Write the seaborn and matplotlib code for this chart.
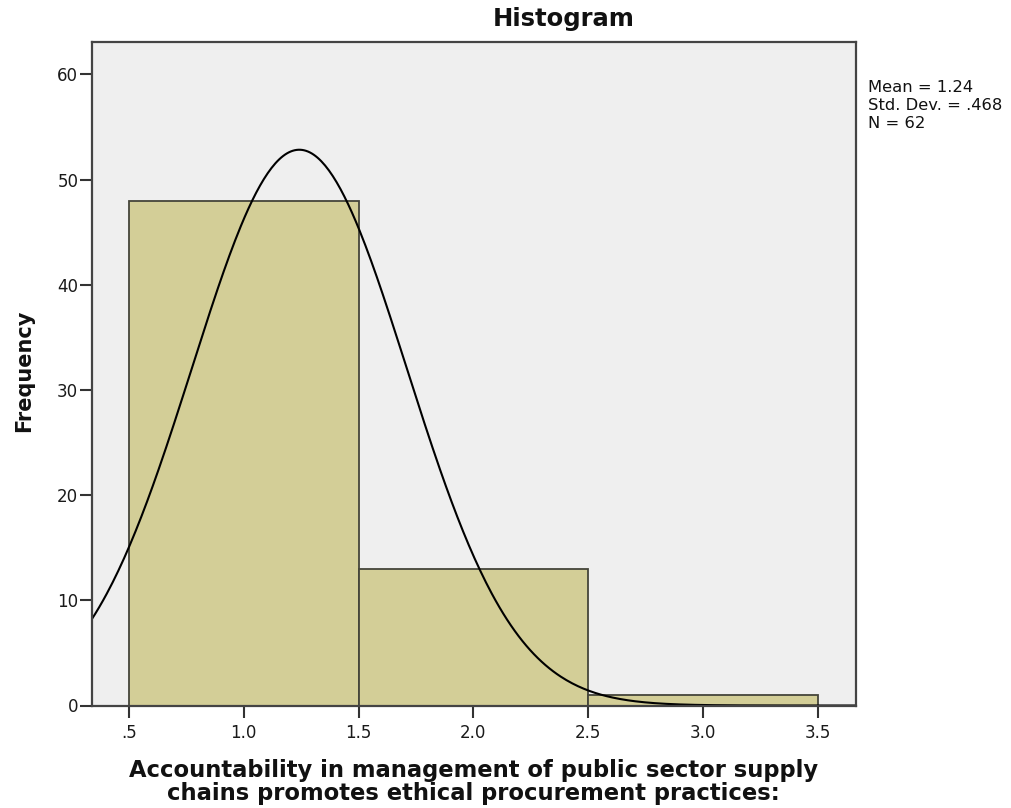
import numpy as np
import pandas as pd
import seaborn as sns
import matplotlib
matplotlib.use("Agg")
import matplotlib.pyplot as plt

# Response codes and how many respondents chose each
values = [1, 2, 3]
counts = [48, 13, 1]
bin_edges = [0.5, 1.5, 2.5, 3.5]
x_ticks = [0.5, 1.0, 1.5, 2.0, 2.5, 3.0, 3.5]
x_tick_labels = [".5", "1.0", "1.5", "2.0", "2.5", "3.0", "3.5"]
y_ticks = [0, 10, 20, 30, 40, 50, 60]

sns.set_theme(style="white")
plt.rcParams["font.family"] = ["DejaVu Sans"]

df = pd.DataFrame({"value": values, "count": counts})

W, H = 1012, 808
fig = plt.figure(figsize=(W / 100, H / 100), dpi=100)
ax_l, ax_r, ax_t, ax_b = 91.5, 855.7, 41.7, 705.5
ax = fig.add_axes([ax_l / W, 1 - ax_b / H, (ax_r - ax_l) / W, (ax_b - ax_t) / H])
ax.set_facecolor("#efefef")

sns.histplot(data=df, x="value", weights="count", bins=bin_edges, ax=ax,
             color="#d3ce97", edgecolor="#45453a", linewidth=1.3, alpha=1)

# Normal curve fitted to the sample, scaled to counts per unit-width bin
data = np.repeat(values, counts)
mean = data.mean()
sd = data.std(ddof=1)
n = data.size
xmin, xmax = 0.337, 3.665
xs = np.linspace(xmin, xmax, 400)
ys = n * 1.0 / (sd * np.sqrt(2 * np.pi)) * np.exp(-0.5 * ((xs - mean) / sd) ** 2)
sns.lineplot(x=xs, y=ys, ax=ax, color="black", linewidth=1.5)

ax.set_xlim(xmin, xmax)
ax.set_ylim(0, 63.1)
ax.set_xticks(x_ticks)
ax.set_xticklabels(x_tick_labels)
ax.set_yticks(y_ticks)
ax.tick_params(axis="both", direction="out", length=8.5, width=1.5, color="#333333",
               labelsize=12, labelcolor="#1a1a1a", bottom=True, left=True)
ax.tick_params(axis="x", pad=5)
ax.tick_params(axis="y", pad=1)

for s in ax.spines.values():
    s.set_color("#444444")
    s.set_linewidth(1.6)

ax.set_xlabel("Accountability in management of public sector supply\nchains promotes ethical procurement practices:",
              fontsize=16.3, fontweight="bold", linespacing=1.0, color="#111111")
ax.xaxis.set_label_coords(((ax_l + ax_r) / 2 - ax_l) / (ax_r - ax_l),
                          (ax_b - 759) / (ax_b - ax_t))

ax.set_ylabel("Frequency", fontsize=15, fontweight="bold", color="#111111")
ax.yaxis.label.set_va("center")
ax.yaxis.set_label_coords((24.5 - ax_l) / (ax_r - ax_l), (ax_b - 370.5) / (ax_b - ax_t))

fig.text(563.5 / W, 1 - 26 / H, "Histogram", fontsize=17.5, fontweight="bold",
         ha="center", va="baseline", color="#111111")

stats = (f"Mean = {mean:.2f}\n"
         f"Std. Dev. = {sd:.3f}".replace("0.", ".") + "\n"
         f"N = {n}")
fig.text(868 / W, 1 - 80.5 / H, stats, fontsize=11.8, ha="left", va="top",
         linespacing=1.25, color="#111111")

fig.savefig("out.png", dpi=100)
